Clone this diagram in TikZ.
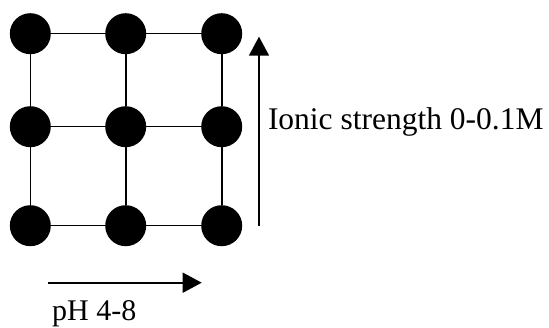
\documentclass[tikz,border=0pt]{standalone}
\usepackage{fontspec}
\setmainfont{Liberation Serif}
\usetikzlibrary{arrows.meta}
\tikzset{
  dot/.style={circle,fill=black,inner sep=0pt,minimum size=41pt},
  gridline/.style={line width=1.6pt,black},
  axisarrow/.style={line width=1.6pt,black,-{Triangle[length=19pt,width=20pt]}},
  lbl/.style={inner sep=0pt,anchor=base west}
}
\begin{document}
\begin{tikzpicture}[x=1pt,y=1pt]
\useasboundingbox (0,0) rectangle (549,327);
% dots: columns x = 30.3, 125.7, 221.7 ; rows y = 327-33.7, 327-126.7, 327-225.7
\foreach \c/\x in {1/30.3,2/125.7,3/221.7}{
  \foreach \r/\y in {1/293.3,2/200.3,3/101.3}{
    \node[dot] (d\r\c) at (\x,\y) {};
  }
}
% grid lines
\draw[gridline] (d11) -- (d12) -- (d13);
\draw[gridline] (d21) -- (d22) -- (d23);
\draw[gridline] (d31) -- (d32) -- (d33);
\draw[gridline] (d11) -- (d21) -- (d31);
\draw[gridline] (d12) -- (d22) -- (d32);
\draw[gridline] (d13) -- (d23) -- (d33);
% arrows
\coordinate (vs) at (259,101);
\coordinate (ve) at (259,290.3);
\coordinate (hs) at (48.3,44.3);
\coordinate (he) at (201.7,44.3);
\draw[axisarrow] (vs) -- (ve);
\draw[axisarrow] (hs) -- (he);
% labels
\node[lbl,font=\fontsize{31.5pt}{36pt}\selectfont] (ionic) at (267.8,197) {Ionic strength 0-0.1M};
\node[lbl,font=\fontsize{30pt}{36pt}\selectfont] (ph) at (52,7) {pH 4-8};
\end{tikzpicture}
\end{document}
